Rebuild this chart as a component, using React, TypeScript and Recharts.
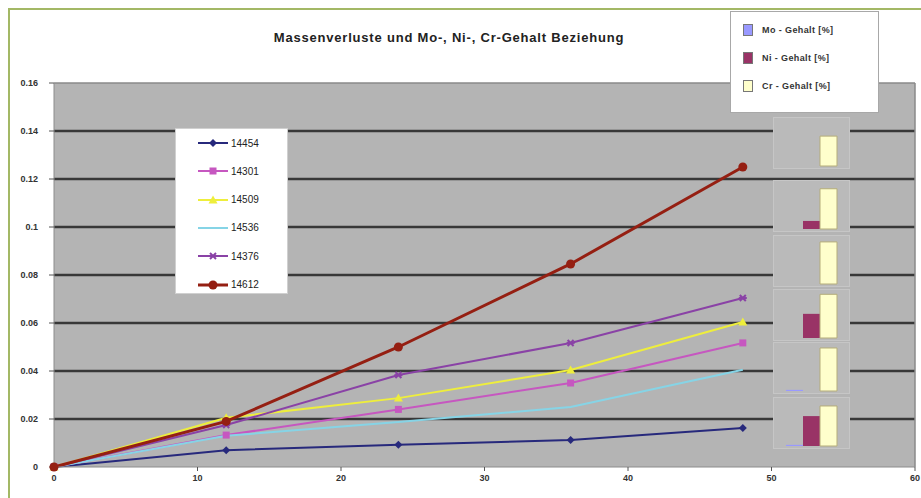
import { LineChart, Line, XAxis, YAxis, CartesianGrid, ReferenceLine, BarChart, Bar } from "recharts";

// time axis (x) and mass loss per alloy
const times = [0, 12, 24, 36, 48];
const s14454 = [0, 0.007, 0.0093, 0.0112, 0.0163];
const s14301 = [0, 0.0133, 0.024, 0.035, 0.0517];
const s14509 = [0, 0.0205, 0.0287, 0.0404, 0.0604];
const s14536 = [0, 0.013, 0.0188, 0.025, 0.0405];
const s14376 = [0, 0.0175, 0.0383, 0.0517, 0.0704];
const s14612 = [0, 0.019, 0.05, 0.0846, 0.125];

const seriesNames = ["14454", "14301", "14509", "14536", "14376", "14612"];
const seriesValues = [s14454, s14301, s14509, s14536, s14376, s14612];

const xTicks = [0, 10, 20, 30, 40, 50, 60];
const yTicks = [0, 0.02, 0.04, 0.06, 0.08, 0.1, 0.12, 0.14, 0.16];
const gridValues = [0.02, 0.04, 0.06, 0.08, 0.1, 0.12, 0.14];

// Mo / Ni / Cr content of the small bar panels (top to bottom)
const contentNames = ["Mo - Gehalt [%]", "Ni - Gehalt [%]", "Cr - Gehalt [%]"];
const moContent = [0, 0, 0, 0, 0.5, 0.5];
const niContent = [0, 3.5, 0, 10.5, 0, 13];
const crContent = [13, 17.5, 18.3, 19, 18.7, 17.4];

const lineColors = ["#27297c", "#c657c0", "#eeee3c", "#86d4e6", "#8a42a6", "#951f12"];
const lineWidths = [2, 2, 2, 2, 2, 3];
const markers = ["diamond", "square", "triangle", "none", "star", "circle"];
const barColors = ["#9999ff", "#993366", "#ffffcc"];
const panelTops = [117, 180, 235, 289, 342, 397];

const lineData = times.map((t, i) => {
  const row: any = { t };
  seriesNames.forEach((n, j) => (row[n] = seriesValues[j][i]));
  return row;
});

const drawMarker = (shape: string, color: string, cx: number, cy: number, key?: any) => {
  if (cx == null || cy == null) return <g key={key} />;
  switch (shape) {
    case "diamond":
      return <path key={key} d={`M${cx},${cy - 4}L${cx + 4},${cy}L${cx},${cy + 4}L${cx - 4},${cy}Z`} fill={color} />;
    case "square":
      return <rect key={key} x={cx - 3.5} y={cy - 3.5} width={7} height={7} fill={color} />;
    case "triangle":
      return <path key={key} d={`M${cx},${cy - 4.5}L${cx + 4.5},${cy + 3.5}L${cx - 4.5},${cy + 3.5}Z`} fill={color} />;
    case "star":
      return (
        <g key={key} stroke={color} strokeWidth={2}>
          <line x1={cx - 4} y1={cy} x2={cx + 4} y2={cy} />
          <line x1={cx - 3} y1={cy - 3} x2={cx + 3} y2={cy + 3} />
          <line x1={cx - 3} y1={cy + 3} x2={cx + 3} y2={cy - 3} />
        </g>
      );
    case "circle":
      return <circle key={key} cx={cx} cy={cy} r={4.5} fill={color} />;
    default:
      return <g key={key} />;
  }
};

const SeriesLegend = () => (
  <div
    style={{
      position: "absolute",
      left: 175,
      top: 128,
      width: 113,
      height: 166,
      background: "#fff",
      border: "1px solid #d0d0d0",
      boxSizing: "border-box",
    }}
  >
    {seriesNames.map((n, i) => (
      <div key={n} style={{ position: "absolute", left: 20, top: 5 + i * 28.3, height: 18, display: "flex", alignItems: "center" }}>
        <svg width={32} height={18}>
          <line x1={2} y1={9} x2={32} y2={9} stroke={lineColors[i]} strokeWidth={lineWidths[i]} />
          {drawMarker(markers[i], lineColors[i], 17, 9)}
        </svg>
        <span style={{ fontSize: 10, color: "#222", marginLeft: 3 }}>{n}</span>
      </div>
    ))}
  </div>
);

const ContentLegend = () => (
  <div
    style={{
      position: "absolute",
      left: 730,
      top: 11,
      width: 149,
      height: 102,
      background: "#fff",
      border: "1px solid #a8a8a8",
      boxSizing: "border-box",
    }}
  >
    {contentNames.map((n, i) => (
      <div key={n} style={{ position: "absolute", left: 12, top: 11 + i * 28, height: 14, display: "flex", alignItems: "center" }}>
        <div style={{ width: 10, height: 12, background: barColors[i], border: "1px solid #777", boxSizing: "border-box" }} />
        <span style={{ fontSize: 9, fontWeight: "bold", letterSpacing: 0.4, color: "#333", marginLeft: 9 }}>{n}</span>
      </div>
    ))}
  </div>
);

const ContentPanel = ({ i }: { i: number }) => {
  const data = [{ name: seriesNames[i], mo: moContent[i], ni: niContent[i], cr: crContent[i] }];
  return (
    <div style={{ position: "absolute", left: 773, top: panelTops[i], width: 77, height: 52, background: "#bababa", border: "1px solid #c6c6c6", boxSizing: "border-box" }}>
      <BarChart width={75} height={50} data={data} margin={{ top: 2, right: 0, left: 0, bottom: 2 }} barGap={0} barSize={17}>
        <XAxis dataKey="name" hide />
        <YAxis hide domain={[0, 20]} />
        <Bar dataKey="mo" fill={barColors[0]} isAnimationActive={false} />
        <Bar dataKey="ni" fill={barColors[1]} isAnimationActive={false} />
        <Bar dataKey="cr" fill={barColors[2]} stroke="#b5ad7a" strokeWidth={1} isAnimationActive={false} />
      </BarChart>
    </div>
  );
};

const App = () => {
  return (
    <div
      style={{
        position: "fixed",
        left: 0,
        top: 0,
        width: 921,
        height: 498,
        overflow: "hidden",
        background: "#fff",
        fontFamily: "'Liberation Sans', Arial, sans-serif",
      }}
    >
      <div style={{ position: "absolute", left: 8, top: 8, right: 0, bottom: 0, borderTop: "2px solid #a3b865", borderLeft: "2px solid #a3b865" }} />
      <div style={{ position: "absolute", left: 0, top: 0 }}>
        <LineChart width={921} height={498} data={lineData} margin={{ top: 83, right: 6, left: 0, bottom: 0 }}>
          <CartesianGrid vertical={false} horizontalValues={gridValues} stroke="#383838" strokeWidth={2.5} fill="#b4b4b4" />
          <XAxis
            dataKey="t"
            type="number"
            domain={[0, 60]}
            ticks={xTicks}
            height={31}
            tickSize={4}
            tickMargin={4}
            axisLine={{ stroke: "#8c8c8c" }}
            tickLine={{ stroke: "#555" }}
            tick={{ fontSize: 9, fontWeight: "bold", fill: "#333" }}
          />
          <YAxis
            type="number"
            domain={[0, 0.16]}
            ticks={yTicks}
            width={54}
            tickSize={5}
            tickMargin={11}
            axisLine={{ stroke: "#8c8c8c" }}
            tickLine={{ stroke: "#555" }}
            tick={{ fontSize: 9, fontWeight: "bold", fill: "#333" }}
          />
          <ReferenceLine y={0.16} stroke="#8a8a8a" strokeWidth={1.5} />
          <ReferenceLine x={60} stroke="#8a8a8a" strokeWidth={1.5} />
          {seriesNames.map((n, i) => (
            <Line
              key={n}
              dataKey={n}
              type="linear"
              stroke={lineColors[i]}
              strokeWidth={lineWidths[i]}
              dot={(p: any) => drawMarker(markers[i], lineColors[i], p.cx, p.cy, p.index)}
              activeDot={false}
              isAnimationActive={false}
            />
          ))}
        </LineChart>
      </div>
      {panelTops.map((_, i) => (
        <ContentPanel key={i} i={i} />
      ))}
      <div style={{ position: "absolute", left: 249, top: 30, width: 400, textAlign: "center", fontSize: 13, fontWeight: "bold", letterSpacing: 0.8, color: "#222" }}>
        Massenverluste und Mo-, Ni-, Cr-Gehalt Beziehung
      </div>
      <SeriesLegend />
      <ContentLegend />
    </div>
  );
};

export default App;
